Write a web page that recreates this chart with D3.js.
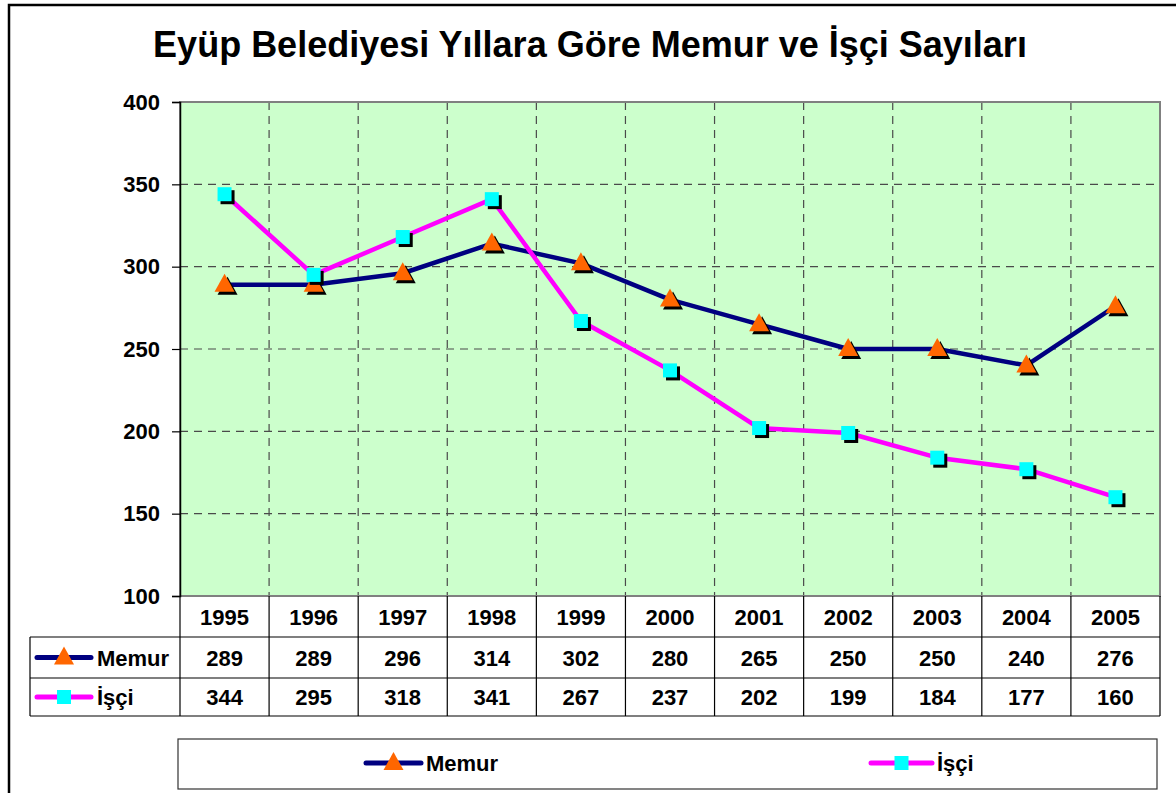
<!DOCTYPE html>
<html lang="tr">
<head>
<meta charset="utf-8">
<style>
body { margin: 0; background: #fff; }
svg { display: block; }
text { font-family: "Liberation Sans", Arial, sans-serif; font-weight: bold; fill: #000; }
</style>
</head>
<body>
<svg width="1176" height="793"></svg>
<script src="https://d3js.org/d3.v7.min.js"></script>
<script>
var years = ["1995","1996","1997","1998","1999","2000","2001","2002","2003","2004","2005"];
var memur = [289, 289, 296, 314, 302, 280, 265, 250, 250, 240, 276];
var isci  = [344, 295, 318, 341, 267, 237, 202, 199, 184, 177, 160];
var yTicks = [100, 150, 200, 250, 300, 350, 400];

var series = [
  {name: "Memur", values: memur, line: "#000080", mark: "#ff6600", shape: "tri"},
  {name: "İşçi", values: isci, line: "#ff00ff", mark: "#00ffff", shape: "sq"}
];

var svg = d3.select("svg");
var pLeft = 180, pRight = 1160, pTop = 102, pBottom = 596;

// outer frame
svg.append("path").attr("d", "M9,793 V5 H1176")
  .attr("fill", "none").attr("stroke", "#000").attr("stroke-width", 2.5);

svg.append("text").attr("x", 590).attr("y", 57).attr("text-anchor", "middle")
  .style("font-size", "36px").text("Eyüp Belediyesi Yıllara Göre Memur ve İşçi Sayıları");

var x = d3.scaleBand().domain(years).range([pLeft, pRight]);
var y = d3.scaleLinear().domain([100, 400]).range([pBottom, pTop]);

svg.append("rect").attr("x", pLeft).attr("y", pTop)
  .attr("width", pRight - pLeft).attr("height", pBottom - pTop).attr("fill", "#ccffcc");

// grid
var grid = svg.append("g").attr("stroke", "#4a4a4a").attr("stroke-width", 1.2)
  .attr("stroke-dasharray", "8,6");
grid.selectAll(".h").data(yTicks.slice(1, -1)).enter().append("line")
  .attr("x1", pLeft).attr("x2", pRight)
  .attr("y1", function(d) { return y(d); }).attr("y2", function(d) { return y(d); });
grid.selectAll(".v").data(years.slice(1)).enter().append("line")
  .attr("x1", function(d) { return x(d); }).attr("x2", function(d) { return x(d); })
  .attr("y1", pTop).attr("y2", pBottom);

svg.append("rect").attr("x", pLeft).attr("y", pTop)
  .attr("width", pRight - pLeft).attr("height", pBottom - pTop)
  .attr("fill", "none").attr("stroke", "#808080").attr("stroke-width", 2);

// y axis
var yAxis = svg.append("g").attr("transform", "translate(" + pLeft + ",0)")
  .call(d3.axisLeft(y).tickValues(yTicks).tickSize(8).tickPadding(12));
yAxis.select(".domain").attr("stroke", "#000").attr("stroke-width", 1.5);
yAxis.selectAll(".tick line").attr("stroke", "#000").attr("stroke-width", 1.2);
yAxis.selectAll("text").style("font-size", "22px").style("font-family", "Liberation Sans, Arial, sans-serif")
  .style("font-weight", "bold").attr("fill", "#000");

function marker(g, shape, color, cx, cy) {
  if (shape === "tri") {
    var p = function(dx, dy) {
      return "M" + (cx + dx) + "," + (cy + dy - 11) + "L" + (cx + dx + 10) + "," + (cy + dy + 7) +
        "L" + (cx + dx - 10) + "," + (cy + dy + 7) + "Z";
    };
    g.append("path").attr("d", p(3, 3)).attr("fill", "#000");
    g.append("path").attr("d", p(0, 0)).attr("fill", color);
  } else {
    g.append("rect").attr("x", cx - 7 + 3).attr("y", cy - 7 + 3).attr("width", 14).attr("height", 14).attr("fill", "#000");
    g.append("rect").attr("x", cx - 7).attr("y", cy - 7).attr("width", 14).attr("height", 14).attr("fill", color);
  }
}

var cx = function(i) { return x(years[i]) + x.bandwidth() / 2; };
var line = d3.line().x(function(d, i) { return cx(i); }).y(function(d) { return y(d); });

series.forEach(function(s) {
  svg.append("path").datum(s.values).attr("d", line)
    .attr("fill", "none").attr("stroke", s.line).attr("stroke-width", 4.5).attr("stroke-linejoin", "round");
});
series.forEach(function(s) {
  var g = svg.append("g");
  s.values.forEach(function(v, i) { marker(g, s.shape, s.mark, cx(i), y(v)); });
});

// data table
var rowY = [596, 637, 678, 716];
var tLeft = 30;
var tb = svg.append("g").attr("stroke", "#000").attr("stroke-width", 1.2);
tb.append("line").attr("x1", pLeft).attr("x2", pLeft).attr("y1", rowY[0]).attr("y2", rowY[3]);
years.forEach(function(d) {
  tb.append("line").attr("x1", x(d) + x.bandwidth()).attr("x2", x(d) + x.bandwidth())
    .attr("y1", rowY[0]).attr("y2", rowY[3]);
});
tb.append("line").attr("x1", tLeft).attr("x2", pRight).attr("y1", rowY[1]).attr("y2", rowY[1]);
tb.append("line").attr("x1", tLeft).attr("x2", pRight).attr("y1", rowY[2]).attr("y2", rowY[2]);
tb.append("line").attr("x1", tLeft).attr("x2", pRight).attr("y1", rowY[3]).attr("y2", rowY[3]);
tb.append("line").attr("x1", tLeft).attr("x2", tLeft).attr("y1", rowY[1]).attr("y2", rowY[3]);

svg.selectAll(".yr").data(years).enter().append("text")
  .attr("x", function(d) { return x(d) + x.bandwidth() / 2; }).attr("y", (rowY[0] + rowY[1]) / 2 + 8)
  .attr("text-anchor", "middle").style("font-size", "22px").text(function(d) { return d; });

function legendKey(g, s, x0, x1, yy) {
  g.append("line").attr("x1", x0).attr("x2", x1).attr("y1", yy).attr("y2", yy)
    .attr("stroke", s.line).attr("stroke-width", 5).attr("stroke-linecap", "round");
  var m = (x0 + x1) / 2;
  if (s.shape === "tri") {
    g.append("path").attr("d", "M" + m + "," + (yy - 11) + "L" + (m + 10) + "," + (yy + 7) + "L" + (m - 10) + "," + (yy + 7) + "Z")
      .attr("fill", s.mark);
  } else {
    g.append("rect").attr("x", m - 7).attr("y", yy - 7).attr("width", 14).attr("height", 14).attr("fill", s.mark);
  }
}

series.forEach(function(s, k) {
  var ry = (rowY[k + 1] + rowY[k + 2]) / 2;
  var g = svg.append("g");
  legendKey(g, s, 37, 91, ry);
  g.append("text").attr("x", 97).attr("y", ry + 8).style("font-size", "22px").text(s.name);
  svg.selectAll(".v" + k).data(s.values).enter().append("text")
    .attr("x", function(d, i) { return cx(i); }).attr("y", ry + 8)
    .attr("text-anchor", "middle").style("font-size", "22px").text(function(d) { return d; });
});

// legend box
svg.append("rect").attr("x", 178).attr("y", 739).attr("width", 979).attr("height", 50)
  .attr("fill", "#fff").attr("stroke", "#333").attr("stroke-width", 1.2);
var lg = svg.append("g");
var legendPos = [[366, 421], [871, 932]];
series.forEach(function(s, k) {
  legendKey(lg, s, legendPos[k][0], legendPos[k][1], 763);
  lg.append("text").attr("x", legendPos[k][1] + 5).attr("y", 771).style("font-size", "22px").text(s.name);
});
</script>
</body>
</html>
